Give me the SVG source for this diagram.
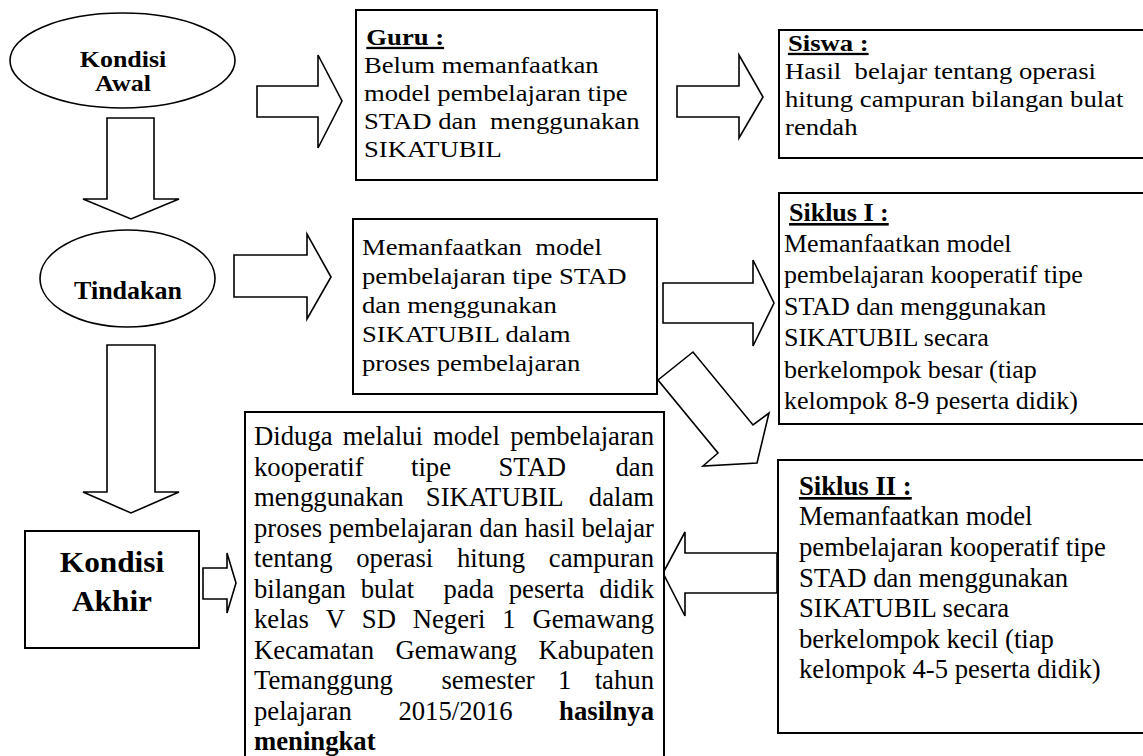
<svg xmlns="http://www.w3.org/2000/svg" width="1143" height="756" viewBox="0 0 1143 756" font-family="'Liberation Serif', 'Times New Roman', Times, serif">
<style>
.box{fill:#fff;stroke:#000;stroke-width:2}
.arr{fill:#fff;stroke:#000;stroke-width:1.6;stroke-linejoin:miter}
.ell{fill:#fff;stroke:#000;stroke-width:1.6}
text{font-family:'Liberation Serif', 'Times New Roman', Times, serif;fill:#000;white-space:pre}
.s{font-size:23px}
.m{font-size:26px}
.l{font-size:26.7px}
.b{font-weight:bold}
.u{text-decoration:underline}
</style>
<rect x="0" y="0" width="1143" height="756" fill="#fff"/>
<g id="connectors">
  <polygon class="arr" points="107,118 154,118 154,199 179,199 131,219 83,199 107,199"/>
  <polygon class="arr" points="107,345 155,345 155,492 179,492 131,513 83,492 107,492"/>
  <polygon class="arr" points="257,86 318,86 318,55 342,101 318,148 318,117 257,117"/>
  <polygon class="arr" points="677,86 739,86 739,55 763,97 739,138 739,117 677,117"/>
  <polygon class="arr" points="234,255 307,255 307,234 331,277 307,319 307,297 234,297"/>
  <polygon class="arr" points="663,283 753,283 753,260 774,303 753,346 753,323 663,323"/>
  <polygon class="arr" points="658,380 693,352 753,425 769,413 757,463 703,466 718,453"/>
  <polygon class="arr" points="777,553 685,553 685,532 663,573 685,616 685,593 777,593"/>
  <polygon class="arr" points="203,568 227,568 227,553 236,583 227,613 227,599 203,599"/>
</g>
<g id="kondisi-awal">
  <ellipse class="ell" cx="122.5" cy="60.5" rx="112.5" ry="47.5"/>
  <g transform="translate(123 0) scale(1.13 1)">
    <text class="s b" x="0" y="67" text-anchor="middle">Kondisi</text>
    <text class="s b" x="0" y="91" text-anchor="middle">Awal</text>
  </g>
</g>
<g id="tindakan">
  <ellipse class="ell" cx="127.5" cy="278.5" rx="87.5" ry="48.5"/>
  <text class="m b" x="128" y="299" text-anchor="middle">Tindakan</text>
</g>
<g id="kondisi-akhir">
  <rect class="box" x="25" y="531" width="174" height="117"/>
  <g transform="translate(112 0) scale(1.08 1)">
    <text class="b" style="font-size:29px" x="0" y="572" text-anchor="middle">Kondisi</text>
    <text class="b" style="font-size:29px" x="0" y="611" text-anchor="middle">Akhir</text>
  </g>
</g>
<g id="guru">
  <rect class="box" x="356" y="10" width="301" height="170"/>
  <g transform="translate(364 0) scale(1.16 1)">
    <text class="s b u" x="2" y="45">Guru :</text>
    <text class="s" x="0" y="73">Belum memanfaatkan</text>
    <text class="s" x="0" y="101">model pembelajaran tipe</text>
    <text class="s" x="0" y="129">STAD dan  menggunakan</text>
    <text class="s" x="0" y="157">SIKATUBIL</text>
  </g>
</g>
<g id="siswa">
  <rect class="box" x="779" y="30" width="380" height="128"/>
  <g transform="translate(785 0) scale(1.16 1)">
    <text class="s b u" x="2.5" y="51">Siswa :</text>
    <text class="s" x="0" y="79">Hasil  belajar tentang operasi</text>
    <text class="s" x="0" y="107">hitung campuran bilangan bulat</text>
    <text class="s" x="0" y="135">rendah</text>
  </g>
</g>
<g id="tindakan-guru">
  <rect class="box" x="353" y="219" width="304" height="175"/>
  <g transform="translate(362 0) scale(1.16 1)">
    <text class="s" x="0" y="255">Memanfaatkan  model</text>
    <text class="s" x="0" y="284">pembelajaran tipe STAD</text>
    <text class="s" x="0" y="313">dan menggunakan</text>
    <text class="s" x="0" y="342">SIKATUBIL dalam</text>
    <text class="s" x="0" y="371">proses pembelajaran</text>
  </g>
</g>
<g id="siklus-1">
  <rect class="box" x="779" y="193" width="380" height="231"/>
  <text class="m b u" x="789" y="221">Siklus I :</text>
  <text class="m" x="784" y="252">Memanfaatkan model</text>
  <text class="m" x="784" y="283">pembelajaran kooperatif tipe</text>
  <text class="m" x="784" y="315">STAD dan menggunakan</text>
  <text class="m" x="784" y="346">SIKATUBIL secara</text>
  <text class="m" x="784" y="378">berkelompok besar (tiap</text>
  <text class="m" x="784" y="409">kelompok 8-9 peserta didik)</text>
</g>
<g id="siklus-2">
  <rect class="box" x="778" y="460" width="380" height="273"/>
  <text class="l b u" x="799" y="495">Siklus II :</text>
  <text class="l" x="799" y="525">Memanfaatkan model</text>
  <text class="l" x="799" y="556">pembelajaran kooperatif tipe</text>
  <text class="l" x="799" y="587">STAD dan menggunakan</text>
  <text class="l" x="799" y="617">SIKATUBIL secara</text>
  <text class="l" x="799" y="648">berkelompok kecil (tiap</text>
  <text class="l" x="799" y="678">kelompok 4-5 peserta didik)</text>
</g>
<g id="kesimpulan">
  <rect class="box" x="245" y="412" width="419" height="360"/>
  <text class="l" y="445"><tspan x="254">Diduga</tspan><tspan x="342.8">melalui</tspan><tspan x="433.1">model</tspan><tspan x="654" text-anchor="end">pembelajaran</tspan></text>
  <text class="l" y="475.5"><tspan x="254">kooperatif</tspan><tspan x="411">tipe</tspan><tspan x="498.4">STAD</tspan><tspan x="654" text-anchor="end">dan</tspan></text>
  <text class="l" y="506"><tspan x="254">menggunakan</tspan><tspan x="425.8">SIKATUBIL</tspan><tspan x="654" text-anchor="end">dalam</tspan></text>
  <text class="l" y="536.5"><tspan x="254">proses</tspan><tspan x="328.8">pembelajaran</tspan><tspan x="479.2">dan</tspan><tspan x="524.4">hasil</tspan><tspan x="654" text-anchor="end">belajar</tspan></text>
  <text class="l" y="567"><tspan x="254">tentang</tspan><tspan x="356.2">operasi</tspan><tspan x="456.9">hitung</tspan><tspan x="654" text-anchor="end">campuran</tspan></text>
  <text class="l" y="597.5"><tspan x="254">bilangan</tspan><tspan x="360.7">bulat</tspan><tspan x="443.6">pada</tspan><tspan x="508.7">peserta</tspan><tspan x="654" text-anchor="end">didik</tspan></text>
  <text class="l" y="628"><tspan x="254">kelas</tspan><tspan x="325.7">V</tspan><tspan x="361.8">SD</tspan><tspan x="412.7">Negeri</tspan><tspan x="502.2">1</tspan><tspan x="654" text-anchor="end">Gemawang</tspan></text>
  <text class="l" y="658.5"><tspan x="254">Kecamatan</tspan><tspan x="395.4">Gemawang</tspan><tspan x="654" text-anchor="end">Kabupaten</tspan></text>
  <text class="l" y="689"><tspan x="254">Temanggung</tspan><tspan x="441.4">semester</tspan><tspan x="558">1</tspan><tspan x="654" text-anchor="end">tahun</tspan></text>
  <text class="l" y="719.5"><tspan x="254">pelajaran</tspan><tspan x="398.4">2015/2016</tspan><tspan class="b" x="654" text-anchor="end">hasilnya</tspan></text>
  <text class="l b" x="254" y="750">meningkat</text>
</g>
</svg>
